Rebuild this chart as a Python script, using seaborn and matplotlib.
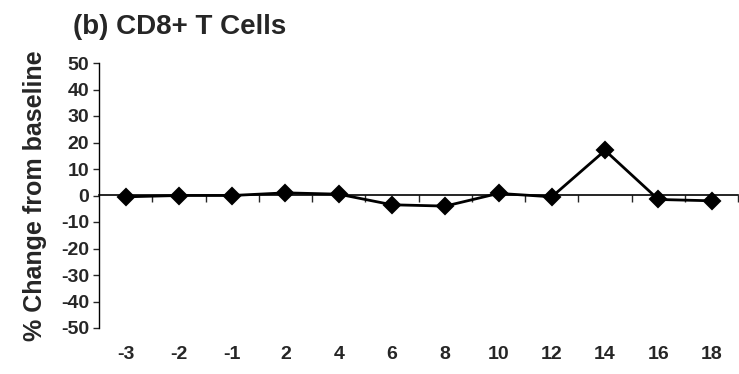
import matplotlib
matplotlib.use("Agg")
import matplotlib.pyplot as plt
import seaborn as sns
import pandas as pd

weeks = ["-3", "-2", "-1", "2", "4", "6", "8", "10", "12", "14", "16", "18"]
pct_change = [-0.5, 0, 0, 1, 0.5, -3.5, -4, 0.8, -0.5, 17, -1.5, -2]
y_ticks = [-50, -40, -30, -20, -10, 0, 10, 20, 30, 40, 50]

df = pd.DataFrame({"week": weeks, "change": pct_change})

sns.set_style("white")
plt.rcParams["font.family"] = ["Liberation Sans", "DejaVu Sans"]

fig = plt.figure(figsize=(7.39, 3.74), dpi=100)
ax = fig.add_axes([99 / 739, 1 - 328 / 374, 1 - 99 / 739 - 0.001, (328 - 63) / 374])

sns.pointplot(data=df, x="week", y="change", order=weeks, color="black",
              markers="D", markersize=8, linewidth=2, ax=ax)

ax.set_xlim(-0.5, len(weeks) - 0.5)
ax.set_ylim(-50, 50)
ax.set_yticks(y_ticks)
ax.set_yticklabels([str(v) for v in y_ticks], fontsize=14, fontweight="bold")
ax.set_xticks(range(len(weeks)))
ax.set_xticklabels(weeks, fontsize=14, fontweight="bold")
ax.tick_params(axis="y", direction="out", length=4, width=1, left=True, pad=3)
ax.tick_params(axis="x", length=0, pad=13)
ax.set_xlabel("")
ax.set_ylabel("% Change from baseline", fontsize=18, fontweight="bold", labelpad=10)

for side in ["top", "right", "bottom"]:
    ax.spines[side].set_visible(False)
ax.spines["left"].set_color("black")
ax.spines["left"].set_linewidth(1)

# zero line with ticks between categories, hanging below the line
zero = ax.secondary_xaxis(0.5)
zero.set_xticks([i + 0.5 for i in range(len(weeks))])
zero.set_xticklabels([])
zero.tick_params(direction="in", length=5, width=1, labelbottom=False, labeltop=False)
for sp in zero.spines.values():
    sp.set_color("black")
    sp.set_linewidth(1.2)

fig.text(73 / 739, 1 - 27 / 374, "(b) CD8+ T Cells", fontsize=20, fontweight="bold",
         ha="left", va="center")

fig.savefig("out.png", dpi=100)
